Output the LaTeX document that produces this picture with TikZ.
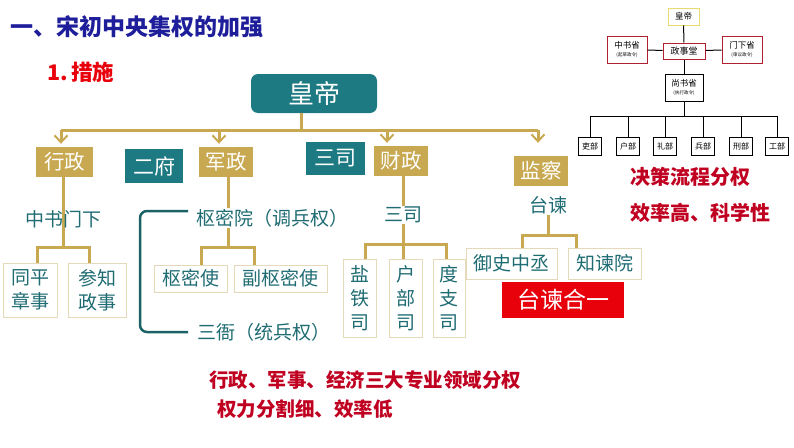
\documentclass[tikz,border=0pt]{standalone}
\usepackage{fontspec}
\setmainfont{Noto Sans CJK SC}
\usepackage{tikz}
\usetikzlibrary{arrows.meta,positioning}
\definecolor{gold}{RGB}{200,169,81}
\definecolor{tealfill}{RGB}{29,122,130}
\definecolor{tealtext}{RGB}{31,108,115}
\definecolor{bracketteal}{RGB}{26,98,104}
\definecolor{frame}{RGB}{228,218,185}
\definecolor{titleblue}{RGB}{30,30,155}
\definecolor{brightred}{RGB}{232,0,10}
\definecolor{darkred}{RGB}{192,0,32}
\definecolor{boxred}{RGB}{176,32,48}
\definecolor{paleyellow}{RGB}{232,216,112}

\begin{document}
\begin{tikzpicture}[x=1pt,y=-1pt,
    goldbox/.style={fill=gold,text=white,inner sep=0pt,font=\fontsize{20.5}{20.5}\selectfont},
    tealbox/.style={fill=tealfill,text=white,inner sep=0pt,font=\fontsize{21}{21}\selectfont},
    subbox/.style={draw=frame,line width=0.8pt,fill=white,text=tealtext,inner sep=0pt,align=center,font=\fontsize{19}{24}\selectfont},
    txt/.style={text=tealtext,inner sep=1pt,font=\fontsize{19}{19}\selectfont},
    goldline/.style={draw=gold,line width=3pt},
    goldarrow/.style={goldline,-{Straight Barb[length=7pt,width=13pt,line width=2pt]}},
    minibox/.style={draw,line width=1pt,fill=white,inner sep=0pt,align=center,font=\fontsize{8.5}{9}\selectfont},
    note/.style={text=darkred,inner sep=0pt,font=\bfseries\fontsize{20}{20}\selectfont}]
  \useasboundingbox (0,0) rectangle (794,447);
  % title
  \node[anchor=west,inner sep=0pt,text=titleblue,font=\bfseries\fontsize{23}{23}\selectfont] (title) at (10,27) {一、宋初中央集权的加强};
  \node[anchor=west,inner sep=0pt,text=brightred,font=\bfseries\fontsize{21.5}{21.5}\selectfont] (step1) at (47,72) {1.\,措施};

  % emperor and the four branches
  \node[fill=tealfill,text=white,rounded corners=7pt,minimum width=126,minimum height=39,inner sep=0pt,font=\fontsize{26}{26}\selectfont] (hd) at (314,93.5) {皇帝};
  \coordinate (bus0) at (301,130);
  \coordinate (bus1) at (61,130);
  \coordinate (bus2) at (219,130);
  \coordinate (bus3) at (387,130);
  \coordinate (bus4) at (538,130);
  \draw[goldline] (hd.south -| bus0) -- (bus0);
  \draw[goldline] (bus1) -- (bus4);

  \node[goldbox,minimum width=57,minimum height=30] (xz) at (64.5,162) {行政};
  \node[tealbox,minimum width=58,minimum height=34] (ef) at (154,166) {二府};
  \node[goldbox,minimum width=54,minimum height=30] (jz) at (226,162) {军政};
  \node[tealbox,minimum width=59,minimum height=33] (ss) at (335.5,158.5) {三司};
  \node[goldbox,minimum width=54,minimum height=30] (cz) at (401,161) {财政};
  \node[goldbox,minimum width=54,minimum height=30] (jc) at (541,171) {监察};
  \draw[goldarrow,shorten >=3pt] (bus1) -- (xz.north -| bus1);
  \draw[goldarrow,shorten >=3pt] (bus2) -- (jz.north -| bus2);
  \draw[goldarrow,shorten >=3pt] (bus3) -- (cz.north -| bus3);
  \draw[goldarrow,shorten >=13pt] (bus4) -- (jc.north -| bus4);

  % administration
  \coordinate (xzj) at (63,247);
  \draw[goldline] (xz.south -| xzj) -- (xzj);
  \node[txt] (zsmx) at (63,219) {中书门下};
  \node[subbox,minimum width=54,minimum height=54] (tpzs) at (30,290) {同平\\章事};
  \node[subbox,minimum width=58,minimum height=54] (czzs) at (97,290) {参知\\政事};
  \draw[goldline] ([xshift=7pt]tpzs.north) |- (xzj) -| ([xshift=-8pt]czzs.north);

  % military
  \node[txt,anchor=west] (smy) at (195,218) {枢密院（调兵权）};
  \node[txt,anchor=west] (sy) at (196,332) {三衙（统兵权）};
  \node[subbox,minimum width=73,minimum height=27] (smsh) at (190.5,278.5) {枢密使};
  \node[subbox,minimum width=93,minimum height=27] (fsms) at (280.5,278.5) {副枢密使};
  \coordinate (jzj) at (228,247);
  \draw[goldline] (jz.south -| jzj) -- (jzj |- smy.north);
  \draw[goldline] (jzj |- smy.south) -- (jzj);
  \draw[goldline] ([xshift=10.5pt]smsh.north) |- (jzj) -| ([xshift=-26.5pt]fsms.north);
  \draw[bracketteal,line width=2.5pt,rounded corners=7pt] ([xshift=-7pt,yshift=7pt]smy.west) -- ++(-48,0) |- ([xshift=-8pt]sy.west);

  % finance
  \node[txt] (sansi) at (403,215) {三司};
  \node[subbox,minimum width=33,minimum height=78] (yts) at (359.5,298) {盐\\铁\\司};
  \node[subbox,minimum width=33,minimum height=78] (hbs) at (405.5,298) {户\\部\\司};
  \node[subbox,minimum width=32,minimum height=78] (dzs) at (449,298) {度\\支\\司};
  \coordinate (czj) at (403,244);
  \draw[goldline] (cz.south -| czj) -- (sansi.north);
  \draw[goldline] (sansi.south) -- (czj);
  \draw[goldline] ([xshift=5.5pt]yts.north) |- (czj) -| ([xshift=-3pt]dzs.north);
  \draw[goldline] (czj) -- (hbs.north -| czj);

  % supervision
  \node[txt] (tj) at (548.5,205) {台谏};
  \node[subbox,minimum width=91,minimum height=31] (yszc) at (511.5,263.5) {御史中丞};
  \node[subbox,minimum width=73,minimum height=31] (zjy) at (604.5,263.5) {知谏院};
  \coordinate (jcj) at (548,235);
  \draw[goldline] (tj.south -| jcj) -- (jcj);
  \draw[goldline] ([xshift=10.5pt]yszc.north) |- (jcj) -| ([xshift=-28.5pt]zjy.north);
  \node[fill=brightred,text=white,minimum width=122,minimum height=36,inner sep=0pt,font=\fontsize{23}{23}\selectfont] (tjhy) at (563,300) {台谏合一};

  % notes
  \node[note,font=\bfseries\fontsize{19.5}{19.5}\selectfont] (fq) at (365,380) {行政、军事、经济三大专业领域分权};
  \node[note,anchor=west,font=\bfseries\fontsize{19.5}{19.5}\selectfont] (xld) at (217,409) {权力分割细、效率低};
  \node[note,anchor=west] (jclc) at (630,177) {决策流程分权};
  \node[note,anchor=west] (xlg) at (630,213) {效率高、科学性};

  % small chart, top right
  \node[minibox,draw=paleyellow,minimum width=31,minimum height=17] (hd2) at (683.5,16.5) {皇帝};
  \node[minibox,draw=boxred,minimum width=42,minimum height=16,font=\fontsize{9}{9}\selectfont] (zst) at (684,51) {政事堂};
  \node[minibox,draw=boxred,minimum width=40,minimum height=27] (zss) at (627,49.5) {中书省\\[-1pt]{\fontsize{4.5}{5}\selectfont (起草政令)}};
  \node[minibox,draw=boxred,minimum width=40,minimum height=27] (mxs) at (742,49.5) {门下省\\[-1pt]{\fontsize{4.5}{5}\selectfont (审议政令)}};
  \node[minibox,minimum width=38,minimum height=27] (shs) at (684,87.5) {尚书省\\[-1pt]{\fontsize{4.5}{5}\selectfont (执行政令)}};
  \draw[line width=1pt] (hd2) -- (zst);
  \draw[line width=1pt] (zss) -- (zst) -- (mxs);
  \draw[line width=1pt] (zst) -- (shs);
  \coordinate (bj) at (684,116);
  \draw[line width=1pt] (shs) -- (bj);
  \foreach \n/\x/\t in {lb/590/吏部,hb/628/户部,lib/665/礼部,bb/703/兵部,xb/741/刑部,gb/777/工部} {
    \node[minibox,minimum width=23,minimum height=18,font=\fontsize{8}{8}\selectfont] (\n) at (\x,146) {\t};
    \draw[line width=1pt] (\n.north) -- (\n.north |- bj);
  }
  \draw[line width=1pt] (lb.north |- bj) -- (gb.north |- bj);
\end{tikzpicture}
\end{document}
